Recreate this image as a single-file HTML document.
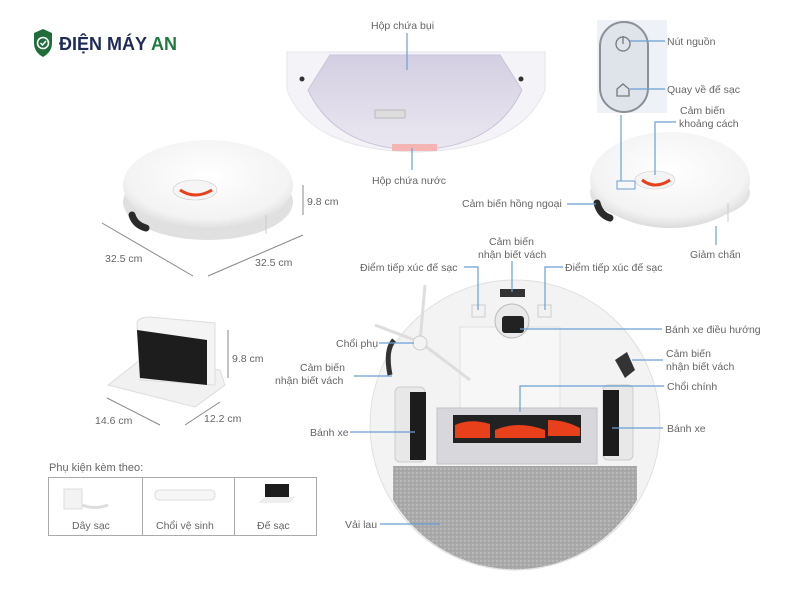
<!DOCTYPE html>
<html><head><meta charset="utf-8"><style>
html,body{margin:0;padding:0;background:#fff}
svg{display:block}
text{font-family:"Liberation Sans",sans-serif;fill:#666;font-size:10.5px}
.l{stroke:#6a9fd4;stroke-width:1.2;fill:none}
.d{stroke:#888;stroke-width:1;fill:none}
</style></head><body>
<svg width="800" height="600" viewBox="0 0 800 600" xmlns="http://www.w3.org/2000/svg">
<defs>
<radialGradient id="rw" cx="50%" cy="40%" r="60%"><stop offset="0" stop-color="#fff"/><stop offset="0.8" stop-color="#f3f3f3"/><stop offset="1" stop-color="#dcdcdc"/></radialGradient>
<linearGradient id="box" x1="0" y1="0" x2="0" y2="1"><stop offset="0" stop-color="#d3cfe2"/><stop offset="1" stop-color="#ebe7f1"/></linearGradient>
<pattern id="mop" width="4" height="4" patternUnits="userSpaceOnUse"><rect width="4" height="4" fill="#a9a9a9"/><rect width="2" height="2" fill="#b8b8b8"/><rect x="2" y="2" width="1" height="1" fill="#9a9a9a"/></pattern>
</defs>

<path d="M34 33 L43 29 L52 33 L52 43 Q52 52 43 57 Q34 52 34 43 Z" fill="#1f6e3a"/>
<circle cx="43" cy="43" r="5.5" fill="none" stroke="#fff" stroke-width="1.6"/>
<path d="M40.5 43 L42.5 45 L46 41" stroke="#fff" stroke-width="1.5" fill="none"/>
<text x="59" y="50" style="font-size:18px;font-weight:bold;fill:#1e2a5a">ĐIỆN MÁY <tspan style="fill:#1f7a3c">AN</tspan></text>

<path d="M287 52 L545 52 L545 90 Q520 150 415 152 Q310 150 287 90 Z" fill="#f4f3f7" stroke="#e6e6ea"/>
<path d="M330 55 L500 55 L522 90 Q495 148 415 150 Q335 148 308 90 Z" fill="url(#box)" stroke="#c9c4d8"/>
<circle cx="302" cy="79" r="2.5" fill="#333"/><circle cx="521" cy="79" r="2.5" fill="#333"/>
<rect x="375" y="110" width="30" height="8" fill="#ddd" stroke="#bbb"/>
<rect x="392" y="144" width="45" height="7" fill="#f5b5b5"/>
<line class="l" x1="407" y1="33" x2="407" y2="70"/>
<line class="l" x1="412" y1="148" x2="412" y2="170"/>
<text x="371" y="29">Hộp chứa bụi</text>
<text x="372" y="184">Hộp chứa nước</text>

<rect x="597" y="20" width="70" height="93" fill="#eef1f5"/>
<rect x="600" y="22" width="48" height="90" rx="24" fill="#dfe3ea" stroke="#8a8f98" stroke-width="2"/>
<circle cx="623" cy="44" r="7" fill="none" stroke="#777" stroke-width="1.3"/><line x1="623" y1="36" x2="623" y2="44" stroke="#777" stroke-width="1.3"/>
<path d="M617 96 L617 89 L623 84 L629 89 L629 96 Z" fill="none" stroke="#777" stroke-width="1.3"/>
<line class="l" x1="630" y1="41" x2="665" y2="41"/>
<line class="l" x1="630" y1="89" x2="665" y2="89"/>
<text x="667" y="45">Nút nguồn</text>
<text x="667" y="93">Quay về đế sạc</text>
<text x="680" y="114">Cảm biến</text>
<text x="679" y="127">khoảng cách</text>

<ellipse cx="670" cy="193" rx="80" ry="30" fill="#e2e2e2"/>
<ellipse cx="670" cy="180" rx="80" ry="48" fill="url(#rw)"/>
<ellipse cx="655" cy="180" rx="20" ry="9" fill="#f4f4f4" stroke="#ccc" stroke-width="0.6"/>
<path d="M642 180 Q655 190 670 180" stroke="#e8401a" stroke-width="3" fill="none"/>
<path d="M597 203 Q600 215 610 218" stroke="#2a2a2a" stroke-width="7" fill="none" stroke-linecap="round"/>
<rect x="617" y="181" width="18" height="8" fill="none" stroke="#6a9fd4"/>
<polyline class="l" points="621,115 621,181"/>
<polyline class="l" points="655,175 655,122 676,122"/>
<line class="l" x1="567" y1="204" x2="596" y2="204"/>
<line class="l" x1="716" y1="226" x2="716" y2="245"/>
<line x1="728" y1="203" x2="728" y2="222" stroke="#ccc"/>
<text x="462" y="207">Cảm biến hồng ngoại</text>
<text x="690" y="258">Giảm chấn</text>

<ellipse cx="208" cy="202" rx="85" ry="38" fill="#e0e0e0"/>
<ellipse cx="208" cy="185" rx="85" ry="45" fill="url(#rw)"/>
<ellipse cx="195" cy="190" rx="22" ry="10" fill="#f5f5f5" stroke="#ccc" stroke-width="0.6"/>
<path d="M180 190 Q195 200 212 190" stroke="#e8401a" stroke-width="3" fill="none"/>
<path d="M132 215 Q135 225 146 228" stroke="#2a2a2a" stroke-width="7" fill="none" stroke-linecap="round"/>
<line x1="266" y1="215" x2="266" y2="234" stroke="#ccc"/>
<line class="d" x1="303" y1="185" x2="303" y2="215"/>
<text x="307" y="205">9.8 cm</text>
<line class="d" x1="102" y1="223" x2="193" y2="276"/>
<line class="d" x1="208" y1="276" x2="303" y2="235"/>
<text x="105" y="262">32.5 cm</text>
<text x="255" y="266">32.5 cm</text>

<path d="M108 385 L140 360 L220 370 L225 385 L195 407 Z" fill="#f1f1f1" stroke="#ddd"/>
<path d="M137 322 Q140 317 150 317 L215 323 L215 385 L140 380 Z" fill="#f4f4f4" stroke="#ddd"/>
<path d="M137 330 L207 340 L207 385 L140 378 Z" fill="#1d1d1d"/>
<line class="d" x1="228" y1="330" x2="228" y2="378"/>
<text x="232" y="362">9.8 cm</text>
<line class="d" x1="107" y1="398" x2="160" y2="425"/>
<line class="d" x1="185" y1="425" x2="220" y2="402"/>
<text x="95" y="424">14.6 cm</text>
<text x="204" y="422">12.2 cm</text>

<text x="49" y="471" style="font-size:11px">Phụ kiện kèm theo:</text>
<rect x="48.5" y="477.5" width="268" height="58" fill="#fff" stroke="#aaa"/>
<line x1="142.5" y1="477" x2="142.5" y2="536" stroke="#aaa"/>
<line x1="234.5" y1="477" x2="234.5" y2="536" stroke="#aaa"/>
<rect x="64" y="489" width="18" height="20" fill="#f3f3f3" stroke="#ddd"/>
<path d="M82 505 Q95 510 108 505" stroke="#ddd" stroke-width="3" fill="none"/>
<rect x="155" y="490" width="60" height="10" rx="4" fill="#f6f6f6" stroke="#ddd"/>
<rect x="265" y="484" width="24" height="13" fill="#1d1d1d"/>
<path d="M258 503 L290 503 L295 497 L265 497 Z" fill="#eee"/>
<text x="72" y="529">Dây sạc</text>
<text x="156" y="529">Chổi vệ sinh</text>
<text x="257" y="529">Đế sạc</text>

<circle cx="515" cy="425" r="145" fill="#f3f3f3" stroke="#e0e0e0"/>
<rect x="460" y="327" width="100" height="120" fill="#f7f7f7" stroke="#e0e0e0"/>
<circle cx="512" cy="321" r="17" fill="#e9e9e9" stroke="#bbb"/>
<rect x="502" y="316" width="22" height="17" rx="3" fill="#222"/>
<rect x="500" y="289" width="25" height="8" fill="#333"/>
<rect x="472" y="305" width="13" height="12" fill="#f2f2f2" stroke="#ccc"/>
<rect x="538" y="305" width="13" height="12" fill="#f2f2f2" stroke="#ccc"/>
<rect x="395" y="387" width="30" height="75" rx="5" fill="#e8e8e8" stroke="#ccc"/>
<rect x="410" y="392" width="16" height="68" fill="#1c1c1c"/>
<rect x="603" y="385" width="30" height="75" rx="5" fill="#e8e8e8" stroke="#ccc"/>
<rect x="603" y="390" width="16" height="66" fill="#1c1c1c"/>
<rect x="437" y="408" width="160" height="56" fill="#d8d8dc" stroke="#c3c3c8"/>
<rect x="453" y="415" width="128" height="28" fill="#222"/>
<path d="M455 425 Q470 418 490 424 L490 438 L455 438 Z" fill="#e8401a"/>
<path d="M495 430 Q518 420 545 430 L545 438 L495 438 Z" fill="#e8401a"/>
<path d="M548 420 Q565 420 580 428 L580 436 L548 436 Z" fill="#e8401a"/>
<path d="M615 360 L627 352 L635 370 L625 378 Z" fill="#333"/>
<path d="M394 340 Q385 350 390 375" stroke="#333" stroke-width="5" fill="none"/>
<line x1="420" y1="342" x2="375" y2="325" stroke="#ddd" stroke-width="3"/>
<line x1="420" y1="342" x2="470" y2="380" stroke="#ddd" stroke-width="3"/>
<line x1="420" y1="342" x2="425" y2="285" stroke="#ddd" stroke-width="3"/>
<circle cx="420" cy="343" r="7" fill="#f3f3f3" stroke="#ccc"/>
<path d="M393 466 L637 466 L637 500 A142 142 0 0 1 393 500 Z" fill="url(#mop)"/>

<text x="360" y="271">Điểm tiếp xúc đế sạc</text>
<text x="565" y="271">Điểm tiếp xúc đế sạc</text>
<text x="489" y="245">Cảm biến</text>
<text x="478" y="258">nhận biết vách</text>
<polyline class="l" points="464,267 478,267 478,310"/>
<polyline class="l" points="563,267 545,267 545,310"/>
<line class="l" x1="512" y1="261" x2="512" y2="292"/>
<line class="l" x1="520" y1="329" x2="662" y2="329"/>
<text x="665" y="333">Bánh xe điều hướng</text>
<line class="l" x1="379" y1="343" x2="414" y2="343"/>
<text x="336" y="347">Chổi phụ</text>
<text x="300" y="371">Cảm biến</text>
<text x="275" y="384">nhận biết vách</text>
<line class="l" x1="354" y1="376" x2="392" y2="376"/>
<line class="l" x1="632" y1="360" x2="663" y2="360"/>
<text x="666" y="357">Cảm biến</text>
<text x="666" y="370">nhận biết vách</text>
<polyline class="l" points="520,412 520,386 664,386"/>
<text x="667" y="390">Chổi chính</text>
<line class="l" x1="350" y1="432" x2="415" y2="432"/>
<text x="310" y="436">Bánh xe</text>
<line class="l" x1="612" y1="428" x2="663" y2="428"/>
<text x="667" y="432">Bánh xe</text>
<line class="l" x1="380" y1="524" x2="440" y2="524"/>
<text x="345" y="528">Vải lau</text>
</svg>
</body></html>
